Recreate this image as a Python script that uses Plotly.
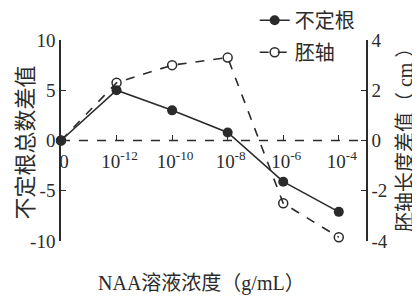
import plotly.graph_objects as go

categories = ["0", "10<sup>-12</sup>", "10<sup>-10</sup>", "10<sup>-8</sup>", "10<sup>-6</sup>", "10<sup>-4</sup>"]
root_values = [0, 5, 3, 0.8, -4.1, -7.1]        # 不定根总数差值 (left axis)
hypocotyl_values = [0, 2.3, 3.0, 3.3, -2.5, -3.85]  # 胚轴长度差值 (right axis)
left_ticks = [-10, -5, 0, 5, 10]
left_ticktext = ["-10", "-5", "0", "5", "10"]
right_ticks = [-4, -2, 0, 2, 4]
right_ticktext = ["-4", "-2", "0", "2", "4"]

FONT = "Liberation Serif, Times New Roman, Noto Sans CJK SC, serif"
INK = "#2b2b2b"
xpos = list(range(len(categories)))

fig = go.Figure()
fig.add_trace(go.Scatter(
    x=xpos, y=root_values, name="不定根", mode="lines+markers",
    line=dict(color=INK, width=1.6),
    marker=dict(symbol="circle", size=10, color=INK),
    xaxis="x", yaxis="y", cliponaxis=False, legendgroup="a",
))
fig.add_trace(go.Scatter(
    x=xpos, y=hypocotyl_values, name="胚轴", mode="lines+markers",
    line=dict(color=INK, width=1.6, dash="dash"),
    marker=dict(symbol="circle-open", size=9, color=INK, line=dict(width=1.5, color=INK)),
    xaxis="x", yaxis="y2", cliponaxis=False, legendgroup="b",
))

fig.add_shape(type="line", xref="x domain", yref="y", x0=0, x1=1, y0=0, y1=0,
              line=dict(color=INK, width=1.5, dash="dash"), layer="below")

# page body has an 8px default margin: margins are reduced by 8 on left/top
fig.update_layout(
    width=420, height=307,
    margin=dict(l=53, r=62, t=32, b=74, autoexpand=False),
    paper_bgcolor="white", plot_bgcolor="white",
    font=dict(family=FONT, size=18, color=INK),
    showlegend=True,
    legend=dict(x=0.635, y=1.195, xanchor="left", yanchor="top",
                font=dict(size=20, family=FONT), bgcolor="rgba(0,0,0,0)",
                itemwidth=30, tracegroupgap=3, traceorder="grouped"),
    xaxis=dict(
        range=[0, 5.49], tickvals=xpos, ticktext=categories,
        anchor="free", position=0.5, showline=False, showgrid=False, zeroline=False,
        ticks="inside", ticklen=6, tickwidth=1.2, tickcolor=INK,
        tickfont=dict(size=19, family=FONT), ticklabelshift=3, ticklabelstandoff=7,
        title=dict(text=""),
    ),
    yaxis=dict(
        range=[-10, 10], tickvals=left_ticks, ticktext=left_ticktext,
        showline=True, linecolor=INK, linewidth=1.5, showgrid=False, zeroline=False,
        ticks="inside", ticklen=5, tickwidth=1.2, tickcolor=INK,
        tickfont=dict(size=19, family=FONT),
    ),
    yaxis2=dict(
        range=[-4, 4], tickvals=right_ticks, ticktext=right_ticktext,
        overlaying="y", side="right", anchor="x",
        showline=True, linecolor=INK, linewidth=1.5, showgrid=False, zeroline=False,
        ticks="inside", ticklen=5, tickwidth=1.2, tickcolor=INK,
        tickfont=dict(size=19, family=FONT),
    ),
)

fig.add_annotation(text="不定根总数差值", xref="paper", yref="paper",
                   x=-0.118, y=0.49, xanchor="center", yanchor="middle", textangle=-90,
                   showarrow=False, font=dict(size=22, family=FONT, color=INK))
fig.add_annotation(text="胚轴长度差值（ cm ）", xref="paper", yref="paper",
                   x=1.128, y=0.527, xanchor="center", yanchor="middle", textangle=-90,
                   showarrow=False, font=dict(size=20, family=FONT, color=INK))
fig.add_annotation(text="NAA溶液浓度（g/mL）", xref="paper", yref="paper",
                   x=0.46, y=-0.21, xanchor="center", yanchor="middle", showarrow=False,
                   font=dict(size=20, family=FONT, color=INK))

fig.write_html("out.html")
